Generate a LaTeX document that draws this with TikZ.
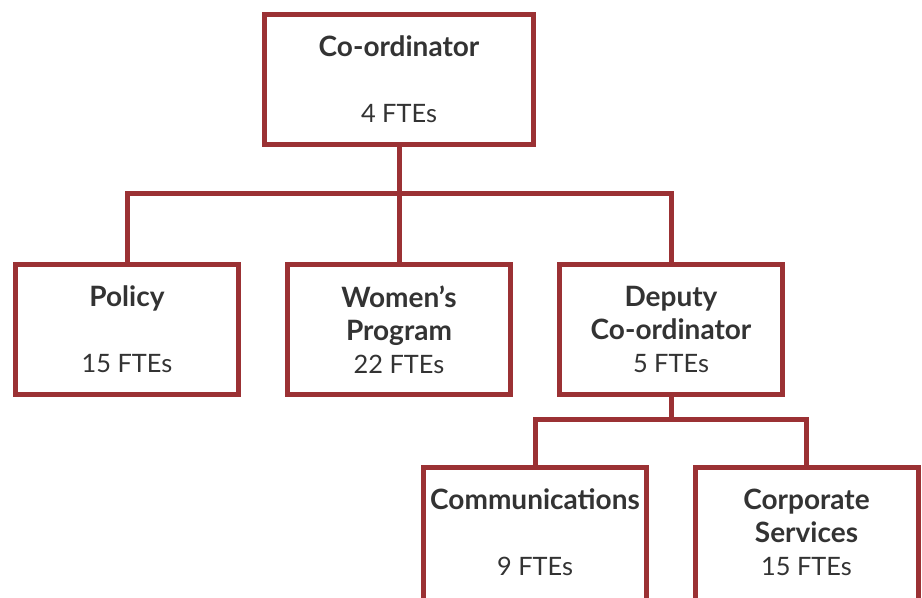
\documentclass[tikz,border=0pt]{standalone}
\usepackage{fontspec}
\setmainfont{Lato}
\usepackage{tikz}
\usetikzlibrary{positioning,calc}
\definecolor{boxred}{HTML}{9B3134}
\definecolor{inkgray}{HTML}{333333}
\newcommand{\fteskip}{24.75pt}
\newcommand{\unitname}[1]{{\fontsize{21}{24.75}\selectfont\bfseries #1}}

\begin{document}
\begin{tikzpicture}[
    x=0.75pt, y=-0.75pt,
    unitbox/.style={
        rectangle,
        draw=boxred,
        line width=3.75pt,
        fill=white,
        align=center,
        text=inkgray,
        font=\fontsize{19}{24.75}\selectfont,
        minimum width=223*0.75pt,
        minimum height=130*0.75pt,
        inner sep=0pt
    },
    topbox/.style={
        unitbox,
        minimum width=269*0.75pt
    },
    cutbox/.style={
        unitbox,
        minimum height=150*0.75pt,
        text depth=15pt
    },
    link/.style={draw=boxred, line width=3.75pt, line join=miter}
]
\useasboundingbox (0,0) rectangle (922,598);
\clip (0,0) rectangle (922,598);

% Boxes
\node[topbox] (coord) at (399,79.5) {\unitname{Co-ordinator}\\[\fteskip]4 FTEs};

\node[unitbox] (policy) at (127,329.5) {\unitname{Policy}\\[\fteskip]15 FTEs};
\node[unitbox] (women) at (399,329.5) {\unitname{Women's}\\\unitname{Program}\\22 FTEs};
\node[unitbox] (deputy) at (671,329.5) {\unitname{Deputy}\\\unitname{Co-ordinator}\\5 FTEs};

\node[cutbox] (comms) at (535,542.5) {\unitname{Communications}\\[\fteskip]9 FTEs};
\node[cutbox] (corp) at (806.5,542.5) {\unitname{Corporate}\\\unitname{Services}\\15 FTEs};

% Connectors
\coordinate (topbar) at ($(coord.south)+(0,47)$);
\draw[link] (coord.south) -- (topbar);
\draw[link] (topbar) -| (policy.north);
\draw[link] (topbar) -- (women.north);
\draw[link] (topbar) -| (deputy.north);

\coordinate (lowbar) at ($(deputy.south)+(0,23)$);
\draw[link] (deputy.south) -- (lowbar);
\draw[link] (lowbar) -| (comms.north);
\draw[link] (lowbar) -| (corp.north);

\end{tikzpicture}
\end{document}
